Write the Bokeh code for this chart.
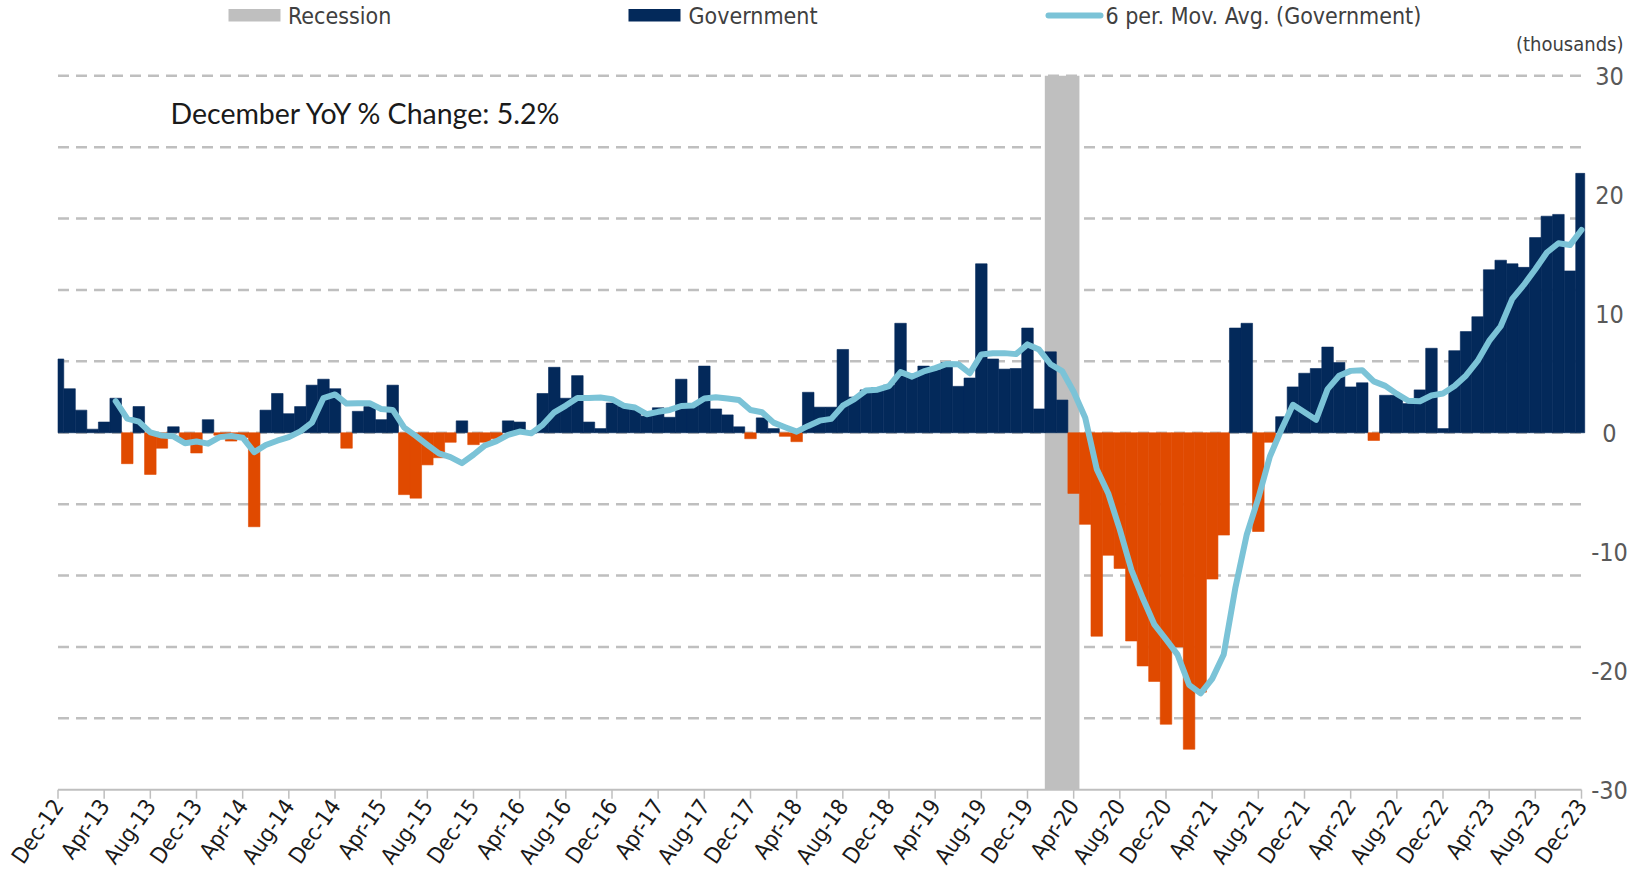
import pandas as pd
from bokeh.plotting import figure
from bokeh.models import Range1d
from bokeh.embed import file_html
from bokeh.resources import INLINE
from bokeh.core.properties import value

# ---------------- data ----------------
months = pd.date_range("2012-12-01", "2023-12-01", freq="MS")
month_labels = [d.strftime("%b-%y") for d in months]

# Monthly change in government employment (thousands), Dec-12 .. Dec-23
government = [
    6.2, 3.7, 1.9, 0.3, 0.9, 2.9, -2.6, 2.2, -3.5, -1.3, 0.5, -0.6, -1.7,      # Dec-12..Dec-13
    1.1, -0.2, -0.7, -0.4, -7.9, 1.9, 3.3, 1.6, 2.2, 4.0, 4.5, 3.7,            # 2014
    -1.3, 1.8, 2.2, 1.1, 4.0, -5.2, -5.5, -2.7, -2.1, -0.8, 1.0, -1.0,         # 2015
    -0.8, -0.5, 1.0, 0.9, 0.1, 3.3, 5.5, 2.9, 4.8, 0.9, 0.35, 2.5,             # 2016
    2.2, 2.0, 1.4, 2.1, 1.3, 4.5, 2.4, 5.6, 2.0, 1.5, 0.5, -0.5,               # 2017
    1.25, 0.35, -0.3, -0.75, 3.4, 2.15, 2.15, 7.0, 3.0, 3.6, 3.8, 4.0,         # 2018
    9.2, 4.7, 5.6, 5.3, 5.9, 3.9, 4.6, 14.2, 6.2, 5.35, 5.4, 8.8,              # 2019
    2.0, 6.8, 2.75, -5.1, -7.7, -17.1, -10.3, -11.4, -17.5, -19.6, -20.9, -24.5,  # 2020
    -18.0, -26.6, -21.8, -12.3, -8.6, 8.8, 9.2, -8.3, -0.8, 1.35, 3.85, 5.0,   # 2021
    5.4, 7.2, 5.9, 3.85, 4.2, -0.65, 3.15, 3.15, 2.45, 3.6, 7.1, 0.35,         # 2022
    6.9, 8.5, 9.75, 13.7, 14.5, 14.2, 13.9, 16.4, 18.2, 18.35, 13.6, 21.8,     # 2023
]
recession_start = "Feb-20"
recession_end = "Apr-20"
ma_window = 6
x_tick_step = 4
y_label_ticks = [-30, -20, -10, 0, 10, 20, 30]
y_grid_ticks = [-24, -18, -12, -6, 0, 6, 12, 18, 24, 30]
legend_labels = ["Recession", "Government", "6 per. Mov. Avg. (Government)"]
annotation_text = "December YoY % Change: 5.2%"
unit_text = "(thousands)"

# ---------------- styles ----------------
NAVY = "#03295A"
ORANGE = "#E04A00"
GRAY = "#BFBFBF"
LIGHTBLUE = "#7BC3D7"
FONT_N = "'DejaVu Sans Condensed', 'Liberation Sans Narrow', sans-serif"

n = len(government)
idx = list(range(n))
gov = pd.Series(government)
ma = gov.rolling(ma_window).mean()
ma_x = [i for i in idx if not pd.isna(ma[i])]
ma_y = [ma[i] for i in ma_x]

# ---------------- layout (page px -> data) ----------------
W, H = 1638, 870
PAGE = 0
X0_SS, XN_SS = 57.5, 1581.0      # screen x of first / last month
Y30_SS, YM30_SS = 75.3, 789.2    # screen y of +30 / -30
PXM = (XN_SS - X0_SS) / (n - 1)
PXU = (YM30_SS - Y30_SS) / 60.0


def dx(px):
    return (px - X0_SS) / PXM


def dy(py):
    return 30 - (py - Y30_SS) / PXU


p = figure(width=W, height=H,
           x_range=Range1d(dx(PAGE), dx(PAGE + W)),
           y_range=Range1d(dy(PAGE + H), dy(PAGE)),
           output_backend="svg", toolbar_location=None,
           x_axis_location=None, y_axis_location=None,
           min_border_left=0, min_border_right=0,
           min_border_top=0, min_border_bottom=0)
p.outline_line_color = None
p.background_fill_color = "white"
p.border_fill_color = "white"
p.grid.visible = False

# horizontal dashed gridlines
p.segment(x0=[0] * len(y_grid_ticks), x1=[n - 1] * len(y_grid_ticks),
          y0=y_grid_ticks, y1=y_grid_ticks,
          line_color=GRAY, line_width=2.5, line_dash="11 7")

# recession band
rs = month_labels.index(recession_start)
re_ = month_labels.index(recession_end)
p.quad(left=[rs - 0.5], right=[re_ + 0.5], bottom=[-30], top=[30],
       fill_color=GRAY, line_color=None)

# bars (clipped to the category axis ends like the original)
colors = [NAVY if v >= 0 else ORANGE for v in government]
lefts = [max(i - 0.5, 0) for i in idx]
rights = [min(i + 0.5, n - 1 + 0.28) for i in idx]
p.quad(left=lefts, right=rights, bottom=[0] * n, top=government,
       fill_color=colors, line_color=colors, line_width=0.6)

# moving average
p.line(x=ma_x, y=ma_y, line_width=6, line_color=LIGHTBLUE,
       line_join="round", line_cap="round")

# x axis line, ticks and labels
p.segment(x0=[0], x1=[n - 1], y0=[-30], y1=[-30], line_color=GRAY, line_width=2)
xt = list(range(0, n, x_tick_step))
tick_len = 9 / PXU
p.segment(x0=xt, x1=xt, y0=[-30] * len(xt), y1=[-30 - tick_len] * len(xt),
          line_color=GRAY, line_width=1.5)
p.text(x=xt, y=[-30 - 12 / PXU] * len(xt), text=[month_labels[i] for i in xt],
       angle=0.96, text_align="right", text_baseline="middle",
       text_font=value(FONT_N), text_font_size=value("22.5px"),
       text_color="#1a1a1a")

# right value labels
p.text(x=[dx(1609)] * len(y_label_ticks), y=y_label_ticks,
       text=[str(v) for v in y_label_ticks],
       text_align="center", text_baseline="middle",
       text_font=value(FONT_N), text_font_size=value("25px"),
       text_color="#595959")

# unit label
p.text(x=[dx(1623)], y=[dy(43)], text=[unit_text], text_align="right",
       text_baseline="middle", text_font=value(FONT_N),
       text_font_size=value("20px"), text_color="#404040")

# legend (top)
p.quad(left=[dx(228)], right=[dx(280)], bottom=[dy(21)], top=[dy(8.5)],
       fill_color=GRAY, line_color=None)
p.quad(left=[dx(628)], right=[dx(680)], bottom=[dy(21)], top=[dy(8.5)],
       fill_color=NAVY, line_color=None)
p.line(x=[dx(1048), dx(1100)], y=[dy(15), dy(15)], line_width=6,
       line_color=LIGHTBLUE, line_cap="round")
p.text(x=[dx(287.5), dx(688), dx(1105)], y=[dy(15)] * 3, text=legend_labels,
       text_align="left", text_baseline="middle", text_font=value(FONT_N),
       text_font_size=value("23px"), text_color="#404040")

# annotation
p.text(x=[dx(170)], y=[dy(112)], text=[annotation_text], text_align="left",
       text_baseline="middle", text_font=value("Lato"),
       text_font_size=value("28.5px"), text_color="#1a1a1a")

open("out.html", "w").write(file_html(p, INLINE))
